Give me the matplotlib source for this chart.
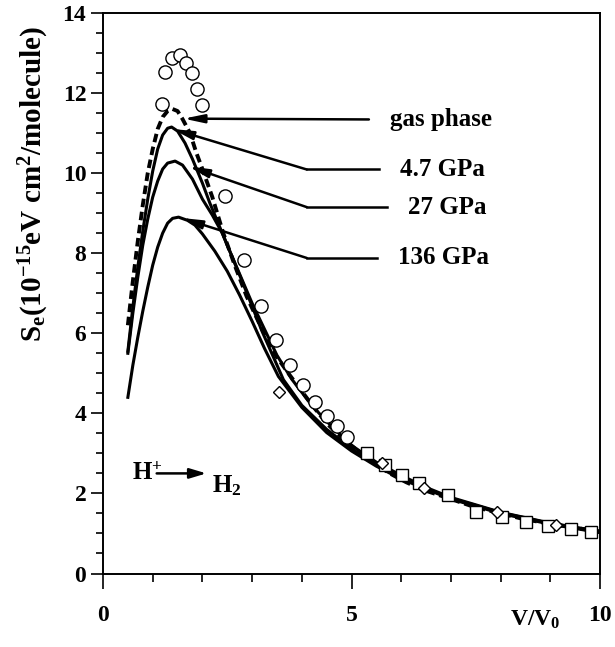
import matplotlib
matplotlib.use("Agg")
import matplotlib.pyplot as plt

plt.rcParams['font.family'] = ['Liberation Serif', 'DejaVu Serif']
plt.rcParams['font.weight'] = 'bold'
plt.rcParams['mathtext.fontset'] = 'custom'
plt.rcParams['mathtext.rm'] = 'Liberation Serif:bold'
plt.rcParams['mathtext.it'] = 'Liberation Serif:bold'
plt.rcParams['mathtext.bf'] = 'Liberation Serif:bold'

# experimental points
circ_x = [1.19, 1.25, 1.38, 1.55, 1.67, 1.80, 1.90, 2.00, 2.45, 2.83, 3.17,
          3.48, 3.76, 4.03, 4.27, 4.50, 4.71, 4.91]
circ_y = [11.73, 12.53, 12.88, 12.95, 12.74, 12.49, 12.10, 11.69, 9.42, 7.82,
          6.67, 5.84, 5.21, 4.70, 4.28, 3.94, 3.68, 3.42]
sq_x = [5.32, 5.68, 6.02, 6.35, 6.95, 7.50, 8.03, 8.51, 8.95, 9.41, 9.81]
sq_y = [3.00, 2.71, 2.47, 2.27, 1.96, 1.54, 1.40, 1.29, 1.19, 1.11, 1.03]
dia_x = [3.54, 5.61, 6.46, 7.92, 9.12]
dia_y = [4.53, 2.75, 2.13, 1.54, 1.20]

# calculated curves
gas_x = [0.5, 0.6, 0.7, 0.8, 0.9, 1.0, 1.1, 1.2, 1.3, 1.4, 1.5, 1.6, 1.75, 1.88,
         2.0, 2.2, 2.42, 2.65, 2.89, 3.2, 3.49, 3.76, 4.0, 4.23, 4.5, 4.8, 5.1,
         5.4, 5.77, 6.1, 6.44, 7.0, 7.45, 8.0, 8.46, 9.0, 9.5, 10.0]
gas_y = [6.2, 7.3, 8.3, 9.2, 10.0, 10.6, 11.1, 11.4, 11.55, 11.6, 11.55, 11.35,
         11.0, 10.5, 10.1, 9.4, 8.5, 7.7, 6.92, 6.1, 5.42, 4.95, 4.55, 4.17,
         3.75, 3.4, 3.09, 2.8, 2.5, 2.28, 2.09, 1.86, 1.67, 1.5, 1.36, 1.24,
         1.14, 1.05]
p47_x = [0.5, 0.6, 0.7, 0.8, 0.9, 1.0, 1.1, 1.2, 1.3, 1.38, 1.5, 1.65, 1.8,
         2.0, 2.15, 2.5, 3.0, 3.5, 3.8, 4.2, 4.5, 5.0, 5.5, 6.0, 6.5, 7.0, 8.0,
         9.0, 10.0]
p47_y = [5.55, 6.65, 7.65, 8.55, 9.35, 10.05, 10.6, 10.95, 11.12, 11.15, 11.05,
         10.75, 10.35, 9.75, 9.25, 8.2, 6.75, 5.45, 4.85, 4.2, 3.8, 3.2, 2.78,
         2.45, 2.15, 1.9, 1.53, 1.26, 1.05]
p27_x = [0.5, 0.6, 0.7, 0.8, 0.9, 1.0, 1.1, 1.2, 1.3, 1.45, 1.6, 1.8, 2.0, 2.2,
         2.4, 2.8, 3.2, 3.63, 4.0, 4.5, 5.0, 5.5, 6.0, 6.5, 7.0, 8.0, 9.0, 10.0]
p27_y = [5.5, 6.5, 7.4, 8.2, 8.85, 9.4, 9.8, 10.1, 10.25, 10.3, 10.2, 9.85, 9.35,
         8.95, 8.5, 7.3, 6.05, 4.84, 4.2, 3.6, 3.12, 2.72, 2.4, 2.12, 1.88, 1.52,
         1.25, 1.04]
p136_x = [0.5, 0.6, 0.7, 0.8, 0.9, 1.0, 1.1, 1.2, 1.3, 1.4, 1.52, 1.7, 1.85,
          2.0, 2.25, 2.5, 2.75, 3.0, 3.25, 3.53, 4.0, 4.5, 5.0, 5.5, 6.0, 7.0,
          8.0, 9.0, 10.0]
p136_y = [4.4, 5.2, 5.9, 6.55, 7.15, 7.7, 8.15, 8.5, 8.75, 8.87, 8.9, 8.82, 8.7,
          8.48, 8.05, 7.55, 6.95, 6.3, 5.62, 4.92, 4.15, 3.52, 3.06, 2.68, 2.36,
          1.86, 1.5, 1.23, 1.02]

labels = ["gas phase", "4.7 GPa", "27 GPa", "136 GPa"]
label_x = [5.77, 5.97, 6.14, 5.94]
label_y = [11.34, 10.09, 9.15, 7.88]
tip_x = [1.62, 1.40, 1.72, 1.58]
tip_y = [11.36, 11.10, 10.17, 8.88]

fig = plt.figure(figsize=(6.15, 6.47), dpi=100)
ax = fig.add_axes([0.1675, 0.1136, 0.8081, 0.8664])

ax.plot(gas_x, gas_y, color='black', lw=2.8, ls=(0, (2.2, 1.2)), zorder=2)
ax.plot(p47_x, p47_y, color='black', lw=2.2, zorder=2)
ax.plot(p27_x, p27_y, color='black', lw=2.2, zorder=2)
ax.plot(p136_x, p136_y, color='black', lw=2.2, zorder=2)

ax.plot(circ_x, circ_y, 'o', ms=9.5, mfc='white', mec='black', mew=1.0, zorder=4)
ax.plot(sq_x, sq_y, 's', ms=8.5, mfc='white', mec='black', mew=1.0, zorder=4)
ax.plot(dia_x, dia_y, 'D', ms=6, mfc='white', mec='black', mew=1.0, zorder=4)

arrow_style = '-|>,head_length=1.2,head_width=0.25'
for i in range(4):
    tx = label_x[i] - 0.42
    if i == 0:
        ax.annotate("", xy=(tip_x[i], tip_y[i]), xytext=(tx, label_y[i]),
                    arrowprops=dict(arrowstyle=arrow_style, color='black',
                                    lw=1.8, shrinkA=0, shrinkB=0), zorder=5)
    else:
        ax.plot([4.1, tx], [label_y[i], label_y[i]], color='black', lw=1.8, zorder=5)
        ax.annotate("", xy=(tip_x[i], tip_y[i]), xytext=(4.1, label_y[i]),
                    arrowprops=dict(arrowstyle=arrow_style, color='black',
                                    lw=1.8, shrinkA=0, shrinkB=0), zorder=5)
    ax.text(label_x[i], label_y[i], labels[i], fontsize=18, ha='left',
            va='center', fontweight='bold')

ax.text(0.58, 2.5, r"H$^{\mathregular{+}}$", fontsize=18, va='center', ha='left')
ax.annotate("", xy=(2.08, 2.5), xytext=(1.08, 2.5),
            arrowprops=dict(arrowstyle='-|>,head_length=1.0,head_width=0.3',
                            color='black', lw=1.8, shrinkA=0, shrinkB=0))
ax.text(2.2, 2.5, r"H$_{\mathregular{2}}$", fontsize=18, va='top', ha='left')

ax.set_xlim(0, 10)
ax.set_ylim(0, 14)
ax.set_xticks([0, 5, 10])
ax.set_xticks(range(0, 11), minor=True)
ax.set_yticks(range(0, 15, 2))
ax.set_yticks([v * 0.5 for v in range(0, 29)], minor=True)
ax.tick_params(axis='x', which='major', length=11, width=1.2, pad=12, labelsize=17)
ax.tick_params(axis='x', which='minor', length=6, width=1.2)
ax.tick_params(axis='y', which='major', length=9, width=1.2, pad=3, labelsize=17)
ax.tick_params(axis='y', which='minor', length=5, width=1.2)
for s in ax.spines.values():
    s.set_linewidth(1.4)

ax.text(8.7, -1.15, r"V/V$_{\mathregular{0}}$", fontsize=17, ha='center', va='center')
ax.set_ylabel(r"S$_{\mathregular{e}}$(10$^{\mathregular{-15}}$eV cm$^{\mathregular{2}}$/molecule)",
              fontsize=21, fontweight='bold')
ax.yaxis.set_label_coords(-0.105, 0.695)

fig.savefig("out.png", dpi=100)
